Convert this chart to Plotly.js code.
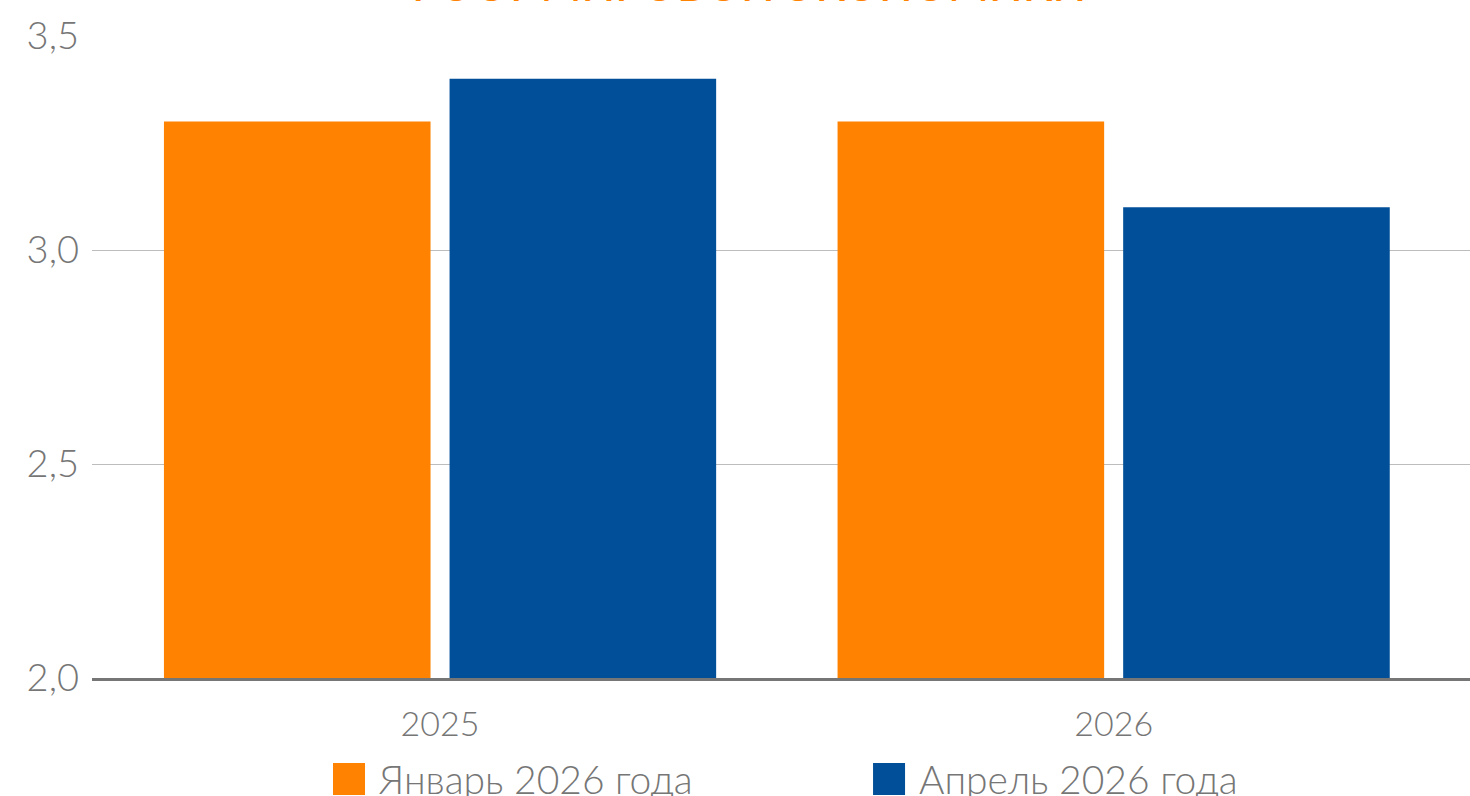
<!DOCTYPE html>
<html>
<head>
<meta charset="utf-8">
<script src="https://cdn.plot.ly/plotly-3.0.1.min.js"></script>
<style>html,body{margin:0;padding:0;background:#fff;}#chart{width:1470px;height:796px;}</style>
</head>
<body>
<div id="chart"></div>
<script>
const categories = ['2025', '2026'];
const seriesNames = ['Январь 2026 года', 'Апрель 2026 года'];
const januaryValues = [3.3, 3.3];
const aprilValues = [3.4, 3.1];
const seriesColors = ['#FF8200', '#004F98'];
const titleText = 'РОСТ МИРОВОЙ ЭКОНОМИКИ';
const yTicks = [2.0, 2.5, 3.0, 3.5];

const FONT = 'Lato, "Open Sans", sans-serif';
const GREY = '#767676';

const traces = [
  {type: 'bar', name: seriesNames[0], x: categories, y: januaryValues, marker: {color: seriesColors[0]}, showlegend: false, hoverinfo: 'none'},
  {type: 'bar', name: seriesNames[1], x: categories, y: aprilValues, marker: {color: seriesColors[1]}, showlegend: false, hoverinfo: 'none'}
];

// custom legend (large squares)
const legendShapes = [];
const legendAnns = [];
const legendX = [0.1749, 0.5668];
const sqW = 32 / 1378, sqH = 32 / 642;
seriesNames.forEach((n, i) => {
  legendShapes.push({type: 'rect', xref: 'paper', yref: 'paper',
    x0: legendX[i], x1: legendX[i] + sqW, y0: -0.1324 - sqH, y1: -0.1324,
    fillcolor: seriesColors[i], line: {width: 0}});
  legendAnns.push({xref: 'paper', yref: 'paper', x: legendX[i] + 44 / 1378, y: -0.1573,
    xanchor: 'left', yanchor: 'middle', showarrow: false, text: n,
    font: {family: FONT, size: 39, color: GREY, weight: 300}});
});

// title (mostly above the visible area, as in the reference)
legendAnns.push({xref: 'paper', yref: 'paper', x: 0.477, y: 1.0374, xanchor: 'center', yanchor: 'bottom',
  showarrow: false, text: titleText, font: {family: FONT, size: 44, color: '#FF8200', weight: 500}});

const layout = {
  width: 1470, height: 796,
  margin: {l: 92, r: 0, t: 36, b: 118},
  paper_bgcolor: '#fff', plot_bgcolor: '#fff',
  separators: ', ',
  font: {family: FONT, color: GREY},
  barmode: 'group', bargap: 0.152, bargroupgap: 0.0666,
  showlegend: false,
  xaxis: {type: 'category', range: [-0.5167, 1.529], showgrid: false, zeroline: false,
    showline: true, linecolor: GREY, linewidth: 3, ticks: '', ticklabelstandoff: 14,
    tickfont: {family: FONT, size: 34, color: GREY, weight: 300}, fixedrange: true},
  yaxis: {range: [2.0, 3.5], tickvals: yTicks, tickformat: '.1f', showgrid: true, gridcolor: '#bdbdbd', gridwidth: 1,
    zeroline: false, showline: false, ticks: '', ticklabelstandoff: 12,
    tickfont: {family: FONT, size: 38, color: GREY, weight: 300}, fixedrange: true},
  shapes: legendShapes,
  annotations: legendAnns
};

Plotly.newPlot('chart', traces, layout, {displayModeBar: false, staticPlot: true});
</script>
</body>
</html>
